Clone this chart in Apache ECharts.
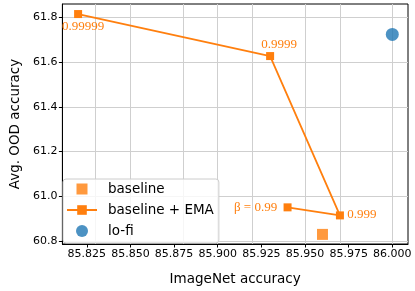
<!DOCTYPE html>
<html><head><meta charset="utf-8">
<script src="https://cdn.jsdelivr.net/npm/echarts@6/dist/echarts.min.js"></script>
<style>html,body{margin:0;padding:0;background:#fff}#c{width:415px;height:291px}</style>
</head><body><div id="c"></div>
<script>
const xTicks = [85.825, 85.850, 85.875, 85.900, 85.925, 85.950, 85.975, 86.000];
const yTicks = [60.8, 61.0, 61.2, 61.4, 61.6, 61.8];
const baselinePts = [[85.96, 60.829]];
const emaX = [85.82, 85.93, 85.97, 85.94];
const emaY = [61.815, 61.627, 60.914, 60.950];
const emaBeta = ['0.99999', '0.9999', '0.999', 'β = 0.99'];
const lofiPts = [[86.0, 61.724]];

const labelOffsets = [[5, 13], [9, -11], [22, -1], [-32, 0]];
const emaData = emaX.map((x, i) => ({
  value: [x, emaY[i]],
  label: {show: true, formatter: emaBeta[i], position: 'inside', offset: labelOffsets[i],
          color: '#ff7f0e', fontFamily: 'Liberation Serif', fontSize: 13}
}));

const gridLineData = xTicks.map(v => ({xAxis: v})).concat(yTicks.map(v => ({yAxis: v})));

const chart = echarts.init(document.getElementById('c'), null, {renderer: 'canvas'});
const axisFont = {fontFamily: 'DejaVu Sans', fontSize: 11, color: '#000'};
chart.setOption({
  animation: false,
  backgroundColor: '#fff',
  grid: {left: 55, right: 7, top: 4, bottom: 42, show: true, borderColor: '#000', borderWidth: 1, backgroundColor: 'transparent'},
  xAxis: {
    type: 'value', min: 85.811, max: 86.009,
    name: 'ImageNet accuracy', nameLocation: 'middle', nameGap: 28,
    nameTextStyle: {fontFamily: 'DejaVu Sans', fontSize: 13.5, color: '#000'},
    axisLine: {show: true, lineStyle: {color: '#000', width: 1}},
    axisTick: {show: true, length: 3.5, inside: false, customValues: xTicks, lineStyle: {color: '#000'}},
    axisLabel: {customValues: xTicks, formatter: v => v.toFixed(3), margin: 5, ...axisFont},
    splitLine: {show: false}
  },
  yAxis: {
    type: 'value', min: 60.786, max: 61.86,
    name: 'Avg. OOD accuracy', nameLocation: 'middle', nameGap: 37, nameRotate: 90,
    nameTextStyle: {fontFamily: 'DejaVu Sans', fontSize: 13.5, color: '#000'},
    axisLine: {show: true, lineStyle: {color: '#000', width: 1}},
    axisTick: {show: true, length: 3.5, inside: false, customValues: yTicks, lineStyle: {color: '#000'}},
    axisLabel: {customValues: yTicks, formatter: v => v.toFixed(1), margin: 5, ...axisFont},
    splitLine: {show: false}
  },
  legend: {
    orient: 'vertical', left: 63, top: 179, z: 10,
    padding: [3, 5, 5, 3], itemGap: 7, itemWidth: 30, itemHeight: 12,
    backgroundColor: 'rgba(255,255,255,0.8)', borderColor: '#cccccc', borderWidth: 1, borderRadius: 3,
    textStyle: {fontFamily: 'DejaVu Sans', fontSize: 13.5, color: '#000', padding: [0, 0, 0, 6], lineHeight: 14},
    data: [
      {name: 'baseline', icon: 'path://M0,0M30,12M9.5,0.5h11v11h-11z'},
      {name: 'baseline + EMA'},
      {name: 'lo-fi', icon: 'circle'}
    ]
  },
  series: [
    {name: 'grid', type: 'line', data: [], z: 0, silent: true,
     markLine: {silent: true, z: 0, symbol: ['none', 'none'], label: {show: false},
                lineStyle: {color: '#cfcfcf', width: 1, type: 'solid'}, emphasis: {disabled: true},
                data: gridLineData}},
    {name: 'baseline', type: 'scatter', symbol: 'rect', symbolSize: 11,
     itemStyle: {color: '#ff7f0e'}, data: baselinePts, z: 3},
    {name: 'baseline + EMA', type: 'line', symbol: 'rect', symbolSize: 8, showAllSymbol: true,
     lineStyle: {color: '#ff7f0e', width: 1.8}, itemStyle: {color: '#ff7f0e'}, data: emaData, z: 3},
    {name: 'lo-fi', type: 'scatter', symbol: 'circle', symbolSize: 13,
     itemStyle: {color: '#1f77b4'}, data: lofiPts, z: 3}
  ]
});
</script></body></html>
